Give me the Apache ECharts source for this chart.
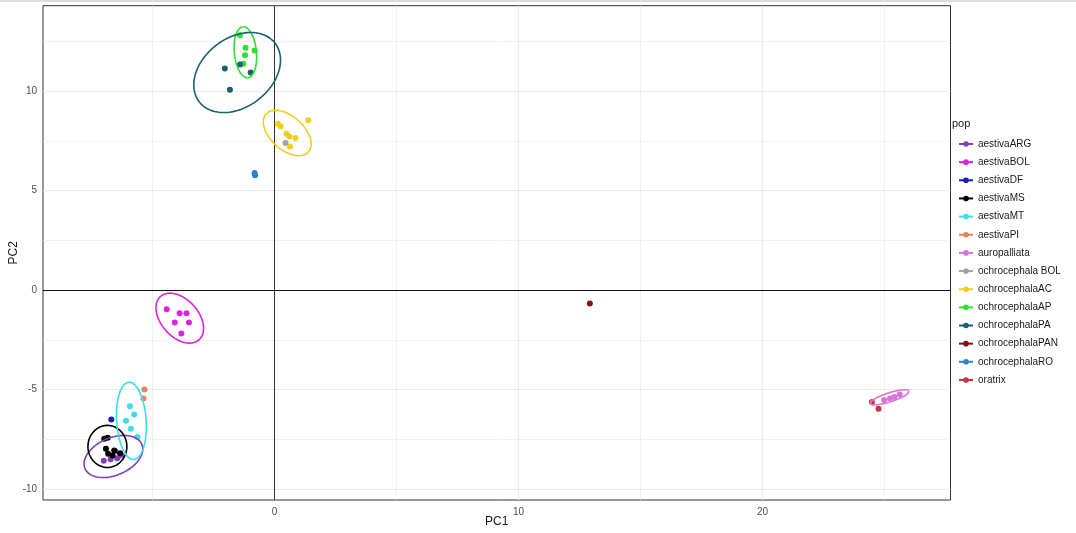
<!DOCTYPE html>
<html>
<head>
<meta charset="utf-8">
<script src="https://cdn.jsdelivr.net/npm/echarts@6/dist/echarts.min.js"></script>
<style>
  html, body { margin: 0; padding: 0; background: #fff; }
  #chart { width: 1076px; height: 533px; }
</style>
</head>
<body>
<div id="chart"></div>
<script>
// Population groups (legend order)
const populations = [
  'aestivaARG', 'aestivaBOL', 'aestivaDF', 'aestivaMS', 'aestivaMT', 'aestivaPI',
  'auropalliata', 'ochrocephala BOL', 'ochrocephalaAC', 'ochrocephalaAP',
  'ochrocephalaPA', 'ochrocephalaPAN', 'ochrocephalaRO', 'oratrix'
];

const popColors = [
  '#7F3FBF', '#DD22DD', '#1A1AB4', '#000000', '#3ADFE8', '#E8845C',
  '#DA74D6', '#A3A3A3', '#EDD11E', '#2FE02F',
  '#19626F', '#861010', '#2A80D6', '#C8323C'
];

// PC scores per population: [PC1, PC2]
const aestivaARG = [[-7.00, -8.58], [-6.72, -8.50], [-6.45, -8.45], [-6.53, -8.10], [-6.28, -8.30]];
const aestivaBOL = [[-4.42, -0.97], [-3.89, -1.17], [-3.61, -1.17], [-4.09, -1.63], [-3.51, -1.63], [-3.82, -2.18]];
const aestivaDF = [[-6.69, -6.50]];
const aestivaMS = [[-6.98, -7.47], [-6.84, -7.42], [-6.91, -7.97], [-6.82, -8.23], [-6.57, -8.06], [-6.33, -8.20], [-6.64, -8.31]];
const aestivaMT = [[-5.93, -5.84], [-5.75, -6.25], [-6.09, -6.57], [-5.89, -6.97], [-5.62, -7.39]];
const aestivaPI = [[-5.33, -5.00], [-5.37, -5.45]];
const auropalliata = [[24.98, -5.53], [25.22, -5.45], [25.40, -5.38], [25.62, -5.25]];
const ochrocephalaBOL = [[0.45, 7.39]];
const ochrocephalaAC = [[0.13, 8.36], [0.25, 8.23], [0.49, 7.86], [0.61, 7.72], [0.86, 7.64], [0.63, 7.22], [1.38, 8.53]];
const ochrocephalaAP = [[-1.42, 12.81], [-1.19, 12.18], [-0.82, 12.04], [-1.21, 11.80], [-1.28, 11.37]];
const ochrocephalaPA = [[-2.04, 11.13], [-1.83, 10.06], [-1.42, 11.34], [-0.98, 10.93]];
const ochrocephalaPAN = [[12.92, -0.67]];
const ochrocephalaRO = [[-0.82, 5.88], [-0.80, 5.77]];
const oratrix = [[24.48, -5.62], [24.75, -5.97]];

const popScores = [
  aestivaARG, aestivaBOL, aestivaDF, aestivaMS, aestivaMT, aestivaPI,
  auropalliata, ochrocephalaBOL, ochrocephalaAC, ochrocephalaAP,
  ochrocephalaPA, ochrocephalaPAN, ochrocephalaRO, oratrix
];

// 95% confidence ellipses (data units): centre and two conjugate semi-diameters
// (null where a group has too few samples for an ellipse)
const ellipseCenter = [
  [-6.605, -8.363], [-3.885, -1.411], null, [-6.851, -7.859], [-5.869, -6.574], null,
  [25.206, -5.390], null, [0.519, 7.894], [-1.198, 11.950],
  [-1.534, 10.932], null, null, null
];
const ellipseAxisA = [
  [1.167, 0.610], [0.794, -1.086], null, [0.798, 0], [-0.102, 1.946], null,
  [0.802, 0.317], null, [0.870, -0.955], [-0.102, 1.284],
  [1.559, 1.469], null, null, null
];
const ellipseAxisB = [
  [-0.299, 0.867], [0.568, 0.630], null, [0, 1.058], [-0.604, -0.048], null,
  [-0.0563, 0.216], null, [0.454, 0.628], [-0.452, -0.0546],
  [-0.855, 1.376], null, null, null
];

// Axis breaks
const xTicks = [0, 10, 20];
const yTicks = [-10, -5, 0, 5, 10];
const xMinorBreaks = [-5, 5, 15, 25];
const yMinorBreaks = [-7.5, -2.5, 2.5, 7.5, 12.5];
const xRange = [-9.49, 27.70];
const yRange = [-10.55, 14.29];

function ellipseOutline(i) {
  const c = ellipseCenter[i];
  if (!c) return [];
  const a = ellipseAxisA[i], b = ellipseAxisB[i];
  const pts = [];
  const n = 120;
  for (let k = 0; k <= n; k++) {
    const t = 2 * Math.PI * k / n;
    const ct = Math.cos(t), st = Math.sin(t);
    pts.push([c[0] + ct * a[0] + st * b[0], c[1] + ct * a[1] + st * b[1]]);
  }
  return pts;
}

const gridColor = '#EBEBEB';
const series = [];

// background grid lines and the zero reference lines
series.push({
  type: 'scatter',
  name: '__grid',
  data: [],
  silent: true,
  z: 1,
  markLine: {
    silent: true,
    z: 1,
    symbol: ['none', 'none'],
    label: { show: false },
    animation: false,
    data: []
      .concat(xMinorBreaks.map(v => ({ xAxis: v, lineStyle: { color: gridColor, width: 0.7, type: 'solid' } })))
      .concat(yMinorBreaks.map(v => ({ yAxis: v, lineStyle: { color: gridColor, width: 0.7, type: 'solid' } })))
      .concat(xTicks.map(v => ({ xAxis: v, lineStyle: { color: gridColor, width: 1.2, type: 'solid' } })))
      .concat(yTicks.map(v => ({ yAxis: v, lineStyle: { color: gridColor, width: 1.2, type: 'solid' } })))
  }
});
series.push({
  type: 'scatter',
  name: '__zero',
  data: [],
  silent: true,
  z: 2,
  markLine: {
    silent: true,
    z: 2,
    symbol: ['none', 'none'],
    label: { show: false },
    animation: false,
    data: [
      { xAxis: 0, lineStyle: { color: '#333333', width: 1, type: 'solid' } },
      { yAxis: 0, lineStyle: { color: '#111111', width: 1.2, type: 'solid' } }
    ]
  }
});

// ellipse outlines (declared first so the legend key shows line + point)
populations.forEach((p, i) => {
  series.push({
    type: 'line',
    name: p,
    data: ellipseOutline(i),
    showSymbol: false,
    symbol: 'circle',
    smooth: false,
    silent: true,
    z: 4,
    color: popColors[i],
    lineStyle: { color: popColors[i], width: 1.6 },
    itemStyle: { color: popColors[i] },
    animation: false
  });
});

// sample points
populations.forEach((p, i) => {
  series.push({
    type: 'scatter',
    name: p,
    data: popScores[i],
    symbol: 'circle',
    symbolSize: 6,
    z: 3,
    itemStyle: { color: popColors[i], opacity: 1 },
    animation: false
  });
});

const chart = echarts.init(document.getElementById('chart'), null, { renderer: 'canvas' });
chart.setOption({
  backgroundColor: '#ffffff',
  animation: false,
  textStyle: { fontFamily: 'Liberation Sans, Arial, sans-serif' },
  graphic: [
    { type: 'rect', left: 0, top: 0, shape: { width: 1076, height: 2 }, style: { fill: '#DCDCDC' }, silent: true }
  ],
  title: {
    text: 'pop',
    left: 952,
    top: 118,
    padding: 0,
    textStyle: { fontSize: 11, fontWeight: 'normal', color: '#1A1A1A', fontFamily: 'Liberation Sans, Arial, sans-serif' }
  },
  legend: {
    data: populations,
    orient: 'vertical',
    left: 958,
    top: 138,
    padding: 0,
    itemWidth: 14,
    itemHeight: 7,
    itemGap: 6.15,
    selectedMode: false,
    textStyle: { fontSize: 10, color: '#1A1A1A', lineHeight: 12, fontFamily: 'Liberation Sans, Arial, sans-serif' }
  },
  grid: {
    left: 43,
    right: 1076 - 950.5,
    top: 5.7,
    bottom: 533 - 500,
    show: true,
    borderColor: '#333333',
    borderWidth: 1,
    backgroundColor: '#ffffff',
    containLabel: false,
    outerBoundsMode: 'none'
  },
  xAxis: {
    type: 'value',
    min: xRange[0],
    max: xRange[1],
    name: 'PC1',
    nameLocation: 'middle',
    nameGap: 16,
    nameMoveOverlap: false,
    nameTextStyle: { fontSize: 12, color: '#1A1A1A', verticalAlign: 'top' },
    axisLine: { show: false },
    axisTick: { show: true, customValues: xTicks, length: 3, lineStyle: { color: '#333333' } },
    axisLabel: { show: true, customValues: xTicks, fontSize: 10, color: '#4D4D4D', margin: 7 },
    splitLine: { show: false },
    minorSplitLine: { show: false }
  },
  yAxis: {
    type: 'value',
    min: yRange[0],
    max: yRange[1],
    name: 'PC2',
    nameLocation: 'middle',
    nameGap: 23,
    nameMoveOverlap: false,
    nameRotate: 90,
    nameTextStyle: { fontSize: 12, color: '#1A1A1A' },
    axisLine: { show: false },
    axisTick: { show: true, customValues: yTicks, length: 3, lineStyle: { color: '#333333' } },
    axisLabel: { show: true, customValues: yTicks, fontSize: 10, color: '#4D4D4D', margin: 6 },
    splitLine: { show: false },
    minorSplitLine: { show: false }
  },
  series: series
});
</script>
</body>
</html>
